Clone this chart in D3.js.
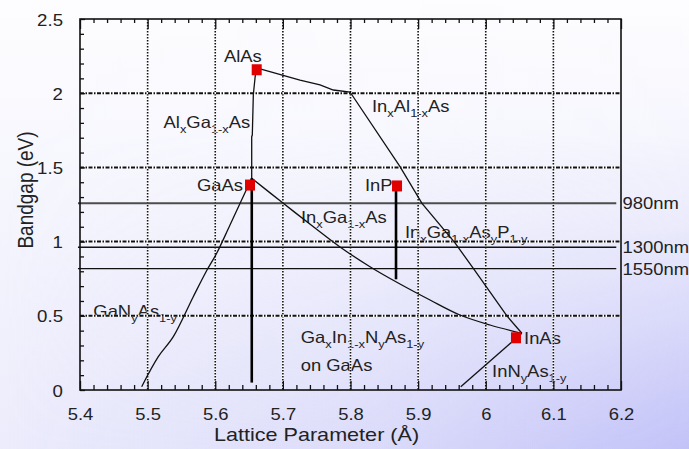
<!DOCTYPE html>
<html>
<head>
<meta charset="utf-8">
<script src="https://cdn.jsdelivr.net/npm/d3@7"></script>
<style>
  html, body { margin: 0; padding: 0; background: #fff; }
  svg { display: block; font-family: "Liberation Sans", Arial, Helvetica, sans-serif; }
</style>
</head>
<body>
<svg id="chart" width="689" height="449"></svg>
<script>
// ---- data -------------------------------------------------------------
// Binary compounds: [lattice parameter (Å), bandgap (eV)]
const compoundNames = ["AlAs", "GaAs", "InP", "InAs"];
const compoundPoints = [[5.6613, 2.158], [5.6514, 1.381], [5.8688, 1.375], [6.0447, 0.352]];

// Alloy curves
const alGaAsCurve = [[5.6539, 1.4266], [5.6539, 1.7069], [5.6548, 1.7183], [5.6563, 1.9879],
                     [5.6573, 2.035], [5.6598, 2.1449], [5.6617, 2.1631]];
const inAlAsCurve = [[5.6637, 2.1678], [5.7253, 2.0889], [5.7549, 2.0553], [5.7746, 2.0216],
                     [5.7993, 2.0081], [5.8732, 1.505], [5.9057, 1.258], [5.9545, 0.991],
                     [5.9816, 0.82], [6.031, 0.501], [6.0534, 0.3821]];
const inGaAsCurve = [[5.6539, 1.4266], [5.7006, 1.2581], [5.7475, 1.0916], [5.7845, 0.9636],
                     [5.8288, 0.8309], [5.8732, 0.7143], [5.9176, 0.6065], [5.9619, 0.5054],
                     [6.0063, 0.438], [6.0534, 0.3821]];
const gaNAsCurve  = [[5.6539, 1.4266], [5.6218, 1.1119], [5.6021, 0.9212], [5.5878, 0.8086],
                     [5.5675, 0.6287], [5.538, 0.3592], [5.5158, 0.2244], [5.4912, 0.0222]];
const inNAsCurve  = [[6.0534, 0.3821], [5.963, 0.0222]];

// Lattice-matched composition ranges (vertical bars)
const gaAsMatched = [[5.654, 1.4266], [5.654, 0.05]];
const inPMatched  = [[5.8673, 1.40], [5.8673, 0.746]];

// Telecom wavelengths
const wavelengthLabels = ["980nm", "1300nm", "1550nm"];
const wavelengthEnergies = [1.258, 0.962, 0.818];
const wavelengthSpan = [5.397, 6.193];

// Axis ticks
const xMajorTicks = [5.4, 5.5, 5.6, 5.7, 5.8, 5.9, 6.0, 6.1, 6.2];
const yMajorTicks = [0, 0.5, 1, 1.5, 2, 2.5];

// Material labels: text (with _{} subscripts) and anchor in data units
const labelTexts = ["AlAs", "Al_{x}Ga_{1-x}As", "GaAs", "In_{x}Ga_{1-x}As", "In_{x}Ga_{1-x}As_{y}P_{1-y}",
                    "InP", "In_{x}Al_{1-x}As", "GaN_{y}As_{1-y}", "Ga_{x}In_{1-x}N_{y}As_{1-y}",
                    "on GaAs", "InAs", "InN_{y}As_{1-y}"];
const labelAnchors = [[5.6129, 2.2082], [5.5235, 1.7635], [5.573, 1.341], [5.7268, 1.1274],
                      [5.8806, 1.0222], [5.8214, 1.343], [5.8318, 1.8713], [5.4197, 0.4939],
                      [5.7264, 0.3187], [5.7264, 0.1301], [6.0566, 0.31], [6.0093, 0.0876]];

// ---- layout -----------------------------------------------------------
const W = 689, H = 449;
const plot = { left: 80, right: 621, top: 19, bottom: 390 };
const STRETCH = 1.13;               // glyphs are set slightly wide
const TEXT = "#222";

const svg = d3.select("#chart");
const x = d3.scaleLinear().domain([5.4, 6.2]).range([plot.left, plot.right]);
const y = d3.scaleLinear().domain([0, 2.5]).range([plot.bottom, plot.top]);

// ---- background -------------------------------------------------------
const defs = svg.append("defs");
const gBase = defs.append("linearGradient").attr("id", "bgBase")
  .attr("x1", 0).attr("y1", 0).attr("x2", 0).attr("y2", 1);
gBase.append("stop").attr("offset", 0).attr("stop-color", "#fdfdff");
gBase.append("stop").attr("offset", 1).attr("stop-color", "#ececfc");

const gTint = defs.append("linearGradient").attr("id", "bgTint")
  .attr("x1", 0).attr("y1", 0).attr("x2", 1).attr("y2", 0);
[[0, 0], [0.5, 0.36], [1, 1]].forEach(([o, a]) =>
  gTint.append("stop").attr("offset", o).attr("stop-color", "#c2c2f8").attr("stop-opacity", a));

const gMask = defs.append("linearGradient").attr("id", "bgMaskGrad")
  .attr("x1", 0).attr("y1", 0).attr("x2", 0).attr("y2", 1);
[[0, 0], [0.3, 0.03], [0.5, 0.19], [0.75, 0.57], [1, 1]].forEach(([o, v]) => {
  const c = Math.round(v * 255);
  gMask.append("stop").attr("offset", o).attr("stop-color", `rgb(${c},${c},${c})`);
});
defs.append("mask").attr("id", "bgMask")
  .append("rect").attr("width", W).attr("height", H).attr("fill", "url(#bgMaskGrad)");

svg.append("rect").attr("width", W).attr("height", H).attr("fill", "url(#bgBase)");
svg.append("rect").attr("width", W).attr("height", H).attr("fill", "url(#bgTint)")
  .attr("mask", "url(#bgMask)");

// ---- helper: text with subscripts -------------------------------------
function richText(sel, str, size) {
  const parts = str.split(/(_\{[^}]*\})/).filter(s => s.length);
  let shifted = false;
  parts.forEach(p => {
    if (p.startsWith("_{")) {
      sel.append("tspan").attr("font-size", size * 0.7).attr("dy", shifted ? 0 : 5)
        .text(p.slice(2, -1));
      shifted = true;
    } else {
      sel.append("tspan").attr("dy", shifted ? -5 : 0).text(p);
      shifted = false;
    }
  });
}

// ---- material labels (under the grid, as in the plotted figure) -------
const labelLayer = svg.append("g").attr("fill", TEXT).attr("font-size", 16.3);
labelTexts.forEach((t, i) => {
  const [lx, ly] = labelAnchors[i];
  const txt = labelLayer.append("text")
    .attr("transform", `translate(${x(lx)},${y(ly)}) scale(${STRETCH},1)`);
  richText(txt, t, 16.3);
});

// ---- grid -------------------------------------------------------------
const grid = svg.append("g");
const xGrid = xMajorTicks.slice(1, -1);
const yGrid = yMajorTicks.slice(1, -1);
grid.selectAll("line.vu").data(xGrid).join("line")
  .attr("x1", d => x(d)).attr("x2", d => x(d)).attr("y1", plot.top).attr("y2", plot.bottom)
  .attr("stroke", "rgba(255,255,255,0.85)").attr("stroke-width", 2);
grid.selectAll("line.vd").data(xGrid).join("line")
  .attr("x1", d => x(d)).attr("x2", d => x(d)).attr("y1", plot.top).attr("y2", plot.bottom)
  .attr("stroke", "#111").attr("stroke-width", 1.6).attr("stroke-dasharray", "1.5,1.5");
grid.selectAll("line.hu").data(yGrid).join("line")
  .attr("x1", plot.left).attr("x2", plot.right).attr("y1", d => y(d)).attr("y2", d => y(d))
  .attr("stroke", "rgba(255,255,255,0.85)").attr("stroke-width", 2.2);
grid.selectAll("line.hd").data(yGrid).join("line")
  .attr("x1", plot.left).attr("x2", plot.right).attr("y1", d => y(d)).attr("y2", d => y(d))
  .attr("stroke", "#111").attr("stroke-width", 2).attr("stroke-dasharray", "4,1.5,1.5,1.5");

// ---- wavelength lines -------------------------------------------------
const wl = svg.append("g");
wavelengthEnergies.forEach((e, i) => {
  wl.append("line")
    .attr("x1", x(wavelengthSpan[0])).attr("x2", x(wavelengthSpan[1]))
    .attr("y1", y(e)).attr("y2", y(e))
    .attr("stroke", i === 0 ? "#4d4d4d" : "#111")
    .attr("stroke-width", i === 0 ? 2 : 1.4);
  wl.append("text")
    .attr("transform", `translate(${x(6.2) + 1.5},${y(e) + 6}) scale(${STRETCH},1)`)
    .attr("fill", TEXT).attr("font-size", 16.3).text(wavelengthLabels[i]);
});

// ---- curves -----------------------------------------------------------
const line = d3.line().x(d => x(d[0])).y(d => y(d[1]));
const smooth = d3.line().x(d => x(d[0])).y(d => y(d[1])).curve(d3.curveCatmullRom.alpha(0.5));
const curves = svg.append("g").attr("fill", "none").attr("stroke", "#111").attr("stroke-width", 1.3);
curves.append("path").attr("d", line(alGaAsCurve));
curves.append("path").attr("d", line(inAlAsCurve));
curves.append("path").attr("d", smooth(inGaAsCurve));
curves.append("path").attr("d", smooth(gaNAsCurve));
curves.append("path").attr("d", line(inNAsCurve));

const bars = svg.append("g").attr("fill", "none").attr("stroke", "#000").attr("stroke-width", 2.6);
bars.append("path").attr("d", line(gaAsMatched));
bars.append("path").attr("d", line(inPMatched));

// ---- compound markers -------------------------------------------------
svg.append("g").selectAll("rect").data(compoundPoints).join("rect")
  .attr("x", d => x(d[0]) - 5).attr("y", d => y(d[1]) - 5.5)
  .attr("width", 10).attr("height", 11)
  .attr("fill", "#e00000")
  .append("title").text((d, i) => compoundNames[i]);

// ---- frame & axes -----------------------------------------------------
svg.append("rect")
  .attr("x", plot.left).attr("y", plot.top)
  .attr("width", plot.right - plot.left).attr("height", plot.bottom - plot.top)
  .attr("fill", "none").attr("stroke", "#111").attr("stroke-width", 1.6);

const xMinor = d3.range(0, 41).map(i => +(5.4 + i * 0.02).toFixed(2))
  .filter(v => !xMajorTicks.some(m => Math.abs(m - v) < 1e-6));
const yMinor = d3.range(0, 26).map(i => +(i * 0.1).toFixed(1))
  .filter(v => !yMajorTicks.some(m => Math.abs(m - v) < 1e-6));
const fmt = d => String(+d.toFixed(2));

function styleAxis(g) {
  g.select(".domain").remove();
  g.selectAll(".tick line").attr("stroke", "#111").attr("stroke-width", 1.3);
}

// bottom
svg.append("g").attr("transform", `translate(0,${plot.bottom})`)
  .call(d3.axisBottom(x).tickValues(xMinor).tickSize(-5).tickFormat(""))
  .call(styleAxis);
const xAx = svg.append("g").attr("transform", `translate(0,${plot.bottom})`)
  .call(d3.axisBottom(x).tickValues(xMajorTicks).tickSize(-9).tickFormat(fmt))
  .call(styleAxis);
xAx.selectAll(".tick text")
  .attr("y", null).attr("dy", null)
  .attr("transform", `translate(0,30) scale(${STRETCH},1)`)
  .attr("fill", TEXT).attr("font-size", 16.3).attr("font-family", null);

// top
svg.append("g").attr("transform", `translate(0,${plot.top})`)
  .call(d3.axisTop(x).tickValues(xMinor).tickSize(-4).tickFormat(""))
  .call(styleAxis);
svg.append("g").attr("transform", `translate(0,${plot.top})`)
  .call(d3.axisTop(x).tickValues(xMajorTicks).tickSize(-10).tickFormat(""))
  .call(styleAxis);

// left
svg.append("g").attr("transform", `translate(${plot.left},0)`)
  .call(d3.axisLeft(y).tickValues(yMinor).tickSize(-4).tickFormat(""))
  .call(styleAxis);
const yAx = svg.append("g").attr("transform", `translate(${plot.left},0)`)
  .call(d3.axisLeft(y).tickValues(yMajorTicks).tickSize(-5).tickFormat(fmt))
  .call(styleAxis);
yAx.selectAll(".tick text")
  .attr("x", null).attr("dy", null)
  .attr("transform", `translate(-17,6) scale(${STRETCH},1)`)
  .attr("fill", TEXT).attr("font-size", 16.5).attr("font-family", null);

// axis titles
svg.append("text")
  .attr("transform", `translate(316.5,440.5) scale(1.2,1)`)
  .attr("text-anchor", "middle").attr("fill", TEXT).attr("font-size", 18)
  .text("Lattice Parameter (Å)");
svg.append("text")
  .attr("transform", `translate(33,190) scale(${STRETCH},1) rotate(-90)`)
  .attr("text-anchor", "middle").attr("fill", TEXT).attr("font-size", 19)
  .text("Bandgap (eV)");
</script>
</body>
</html>
